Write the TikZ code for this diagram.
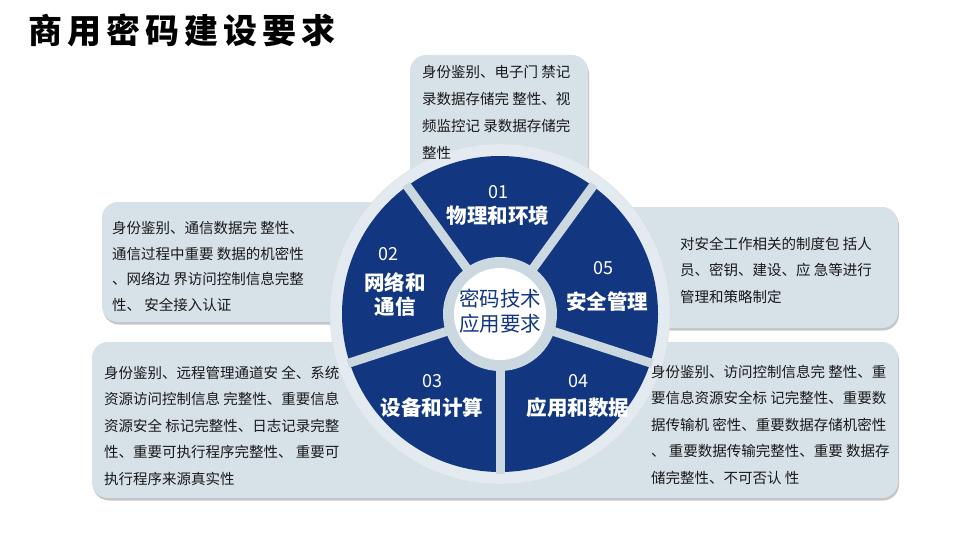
\documentclass[tikz,border=0pt]{standalone}
\usepackage{fontspec}
\setmainfont{Noto Sans CJK SC}
\usetikzlibrary{shadows}
\definecolor{wheelblue}{RGB}{18,55,128}
\definecolor{panelgray}{RGB}{214,225,232}
\definecolor{ringgray}{RGB}{204,216,224}
\definecolor{haze}{RGB}{228,235,240}
\definecolor{bodytext}{RGB}{25,25,25}

\begin{document}
\begin{tikzpicture}[x=1pt, y=-1pt,
    panel/.style={fill=panelgray, rounded corners=16pt,
        drop shadow={shadow xshift=1pt, shadow yshift=-2.5pt, fill=black!45, opacity=0.5}},
    desc/.style={anchor=north west, inner sep=0pt, align=left, text=bodytext,
        font=\fontsize{14.5}{26.4}\selectfont},
    secnum/.style={text=white, inner sep=0pt, font=\fontsize{18}{18}\selectfont},
    seclabel/.style={text=white, inner sep=0pt, align=center,
        font=\fontsize{20.5}{24}\selectfont\bfseries}]
    \useasboundingbox (0,0) rectangle (960,540);

    % Title
    \node[anchor=west, inner sep=0pt, font=\fontsize{34}{34}\selectfont\bfseries\addfontfeature{LetterSpace=15}]
        (title) at (28,30) {商用密码建设要求};

    % Background panels
    \fill[panel] (410,55) rectangle (588,210);
    \fill[panel] (102,202) rectangle (440,322);
    \fill[panel] (560,207) rectangle (898,328);
    \fill[panel] (92,342) rectangle (898,498);

    % Wheel
    \coordinate (hub) at (500,314);
    \fill[haze, draw=black!12] (hub) circle[radius=170];
    \fill[wheelblue] (hub) circle[radius=158];
    \foreach \a in {-54,-126,162,90,18}
        \draw[ringgray, line width=9pt] (hub) -- ++(\a:160);
    \fill[ringgray] (hub) circle[radius=57];
    \fill[white] (hub) circle[radius=46];
    \node[align=center, text=wheelblue, inner sep=0pt, font=\fontsize{20.5}{25}\selectfont]
        (core) at (500,311) {密码技术\\应用要求};

    % Sector labels
    \node[secnum] (num1) at (498,192) {01};
    \node[seclabel] (sec1) at (498,216) {物理和环境};
    \node[secnum] (num2) at (388,254) {02};
    \node[seclabel] (sec2) at (395,295) {网络和\\通信};
    \node[secnum] (num5) at (603,268) {05};
    \node[seclabel] (sec5) at (607,302) {安全管理};
    \node[secnum] (num3) at (432,381) {03};
    \node[seclabel] (sec3) at (432,408) {设备和计算};
    \node[secnum] (num4) at (578,381) {04};
    \node[seclabel] (sec4) at (578,408) {应用和数据};

    % Descriptions
    \node[desc, font=\fontsize{14.5}{27}\selectfont] (desc1) at (422,65)
        {身份鉴别、电子门 禁记\\录数据存储完 整性、视\\频监控记 录数据存储完\\整性};
    \node[desc, font=\fontsize{14.5}{25.7}\selectfont] (desc2) at (112,221)
        {身份鉴别、通信数据完 整性、\\通信过程中重要 数据的机密性\\、网络边 界访问控制信息完整\\性、 安全接入认证};
    \node[desc] (desc5) at (680,237)
        {对安全工作相关的制度包 括人\\员、密钥、建设、应 急等进行\\管理和策略制定};
    \node[desc] (desc3) at (104,366)
        {身份鉴别、远程管理通道安 全、系统\\资源访问控制信息 完整性、重要信息\\资源安全 标记完整性、日志记录完整\\性、重要可执行程序完整性、 重要可\\执行程序来源真实性};
    \node[desc] (desc4) at (651,365)
        {身份鉴别、访问控制信息完 整性、重\\要信息资源安全标 记完整性、重要数\\据传输机 密性、重要数据存储机密性\\、 重要数据传输完整性、重要 数据存\\储完整性、不可否认 性};
\end{tikzpicture}
\end{document}
